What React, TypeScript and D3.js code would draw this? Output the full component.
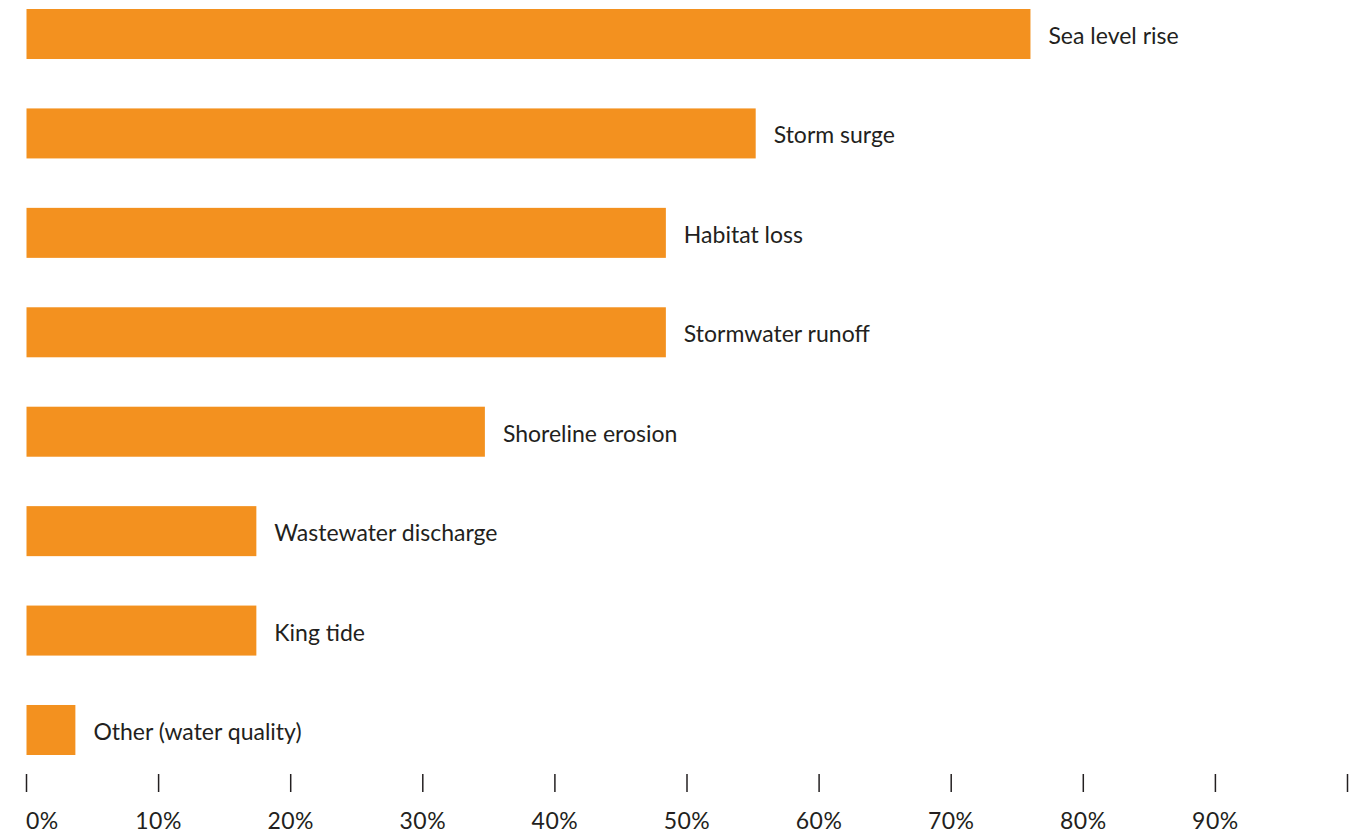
import React from "react";
import * as d3 from "d3";

const categories = [
  "Sea level rise",
  "Storm surge",
  "Habitat loss",
  "Stormwater runoff",
  "Shoreline erosion",
  "Wastewater discharge",
  "King tide",
  "Other (water quality)",
];
const values = [76.0, 55.2, 48.4, 48.4, 34.7, 17.4, 17.4, 3.7];
const tickValues = [0, 10, 20, 30, 40, 50, 60, 70, 80, 90, 100];
const tickLabels = ["0%", "10%", "20%", "30%", "40%", "50%", "60%", "70%", "80%", "90%", ""];

const W = 1367;
const H = 835;
const FONT = "Lato, 'Noto Sans', sans-serif";
const TEXT = "#231f20";
const BAR = "#f3911f";

export default function App() {
  const x = d3.scaleLinear().domain([0, 100]).range([26.5, 1347.5]);
  const y = d3
    .scaleBand<string>()
    .domain(categories)
    .range([9, 755])
    .paddingInner(0.497)
    .paddingOuter(0);

  return (
    <div style={{ position: "absolute", left: 0, top: 0 }}>
      <svg width={W} height={H} style={{ display: "block", background: "#fff" }}>
        <g>
          {categories.map((c, i) => {
            const y0 = y(c) as number;
            const bw = y.bandwidth();
            return (
              <g key={c}>
                <rect x={x(0)} y={y0} width={x(values[i]) - x(0)} height={bw} fill={BAR} />
                <text
                  x={x(values[i]) + 18}
                  y={y0 + bw / 2 + 10}
                  fontFamily={FONT}
                  fontSize={23}
                  fill={TEXT}
                >
                  {c}
                </text>
              </g>
            );
          })}
        </g>
        <g>
          {tickValues.map((t, i) => (
            <g key={t}>
              <line x1={x(t)} x2={x(t)} y1={774} y2={792} stroke={TEXT} strokeWidth={1.5} />
              <text
                x={i === 0 ? x(t) - 0.5 : x(t)}
                y={829}
                textAnchor={i === 0 ? "start" : "middle"}
                fontFamily={FONT}
                fontSize={23}
                letterSpacing={0.5}
                fill={TEXT}
              >
                {tickLabels[i]}
              </text>
            </g>
          ))}
        </g>
      </svg>
    </div>
  );
}
